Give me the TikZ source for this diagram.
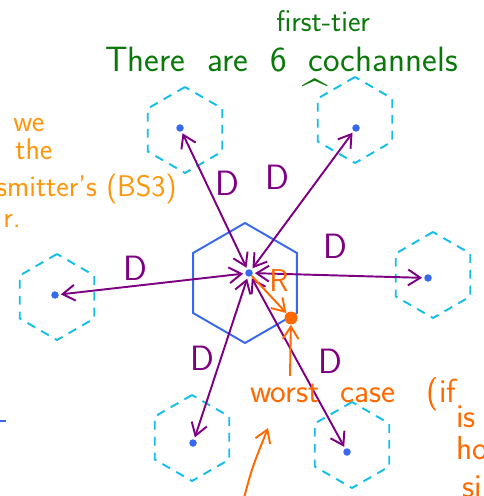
\documentclass[tikz,border=0pt]{standalone}
\usepackage{fontspec}
\usepackage{xcolor}
\usepackage{tikz}
\usetikzlibrary{shapes.geometric, arrows.meta, positioning}

\definecolor{cellblue}{RGB}{55,105,240}
\definecolor{tiercyan}{RGB}{20,190,235}
\definecolor{linkpurple}{RGB}{125,0,130}
\definecolor{noteorange}{RGB}{255,150,10}
\definecolor{caseorange}{RGB}{255,105,0}
\definecolor{tiergreen}{RGB}{10,120,10}

\begin{document}
\begin{tikzpicture}[
    x=0.02cm, y=-0.02cm,
    cell/.style={regular polygon, regular polygon sides=6, shape border rotate=30, inner sep=0pt, minimum size=1.72cm, draw=tiercyan, line width=1.1pt, dash pattern=on 5pt off 4pt},
    home/.style={regular polygon, regular polygon sides=6, shape border rotate=30, inner sep=0pt, minimum size=2.4cm, draw=cellblue, line width=1.1pt},
    bs/.style={circle, fill=cellblue, inner sep=0pt, minimum size=0.15cm},
    link/.style={{Straight Barb[length=7pt, width=9pt]}-{Straight Barb[length=7pt, width=9pt]}, linkpurple, line width=1.1pt, shorten <=1pt, shorten >=1pt},
    oarr/.style={-{Straight Barb[length=7pt, width=9pt]}, caseorange, line width=1.1pt},
    dlbl/.style={font=\sffamily\fontsize{20}{22}\selectfont, text=linkpurple},
    note/.style={font=\sffamily\fontsize{17}{20}\selectfont, text=noteorange, anchor=base west, inner sep=0pt},
    case/.style={font=\sffamily\fontsize{19}{22}\selectfont, text=caseorange, anchor=base west, inner sep=0pt},
    tier/.style={font=\sffamily\fontsize{20}{22}\selectfont, text=tiergreen, anchor=base west, inner sep=0pt},
]
\useasboundingbox (0,0) rectangle (483,496);

% cells: home cell and the first tier of co-channel cells
\node[home] (cell0) at (245,283) {};
\node[cell] (cell1) at (185,130) {};
\node[cell] (cell2) at (355,120) {};
\node[cell] (cell3) at (433,275) {};
\node[cell] (cell4) at (57,297) {};
\node[cell] (cell5) at (192,438) {};
\node[cell] (cell6) at (352,445) {};

% base stations
\node[bs] (bs0) at (249,273) {};
\node[bs] (bs1) at (180,128) {};
\node[bs] (bs2) at (356,128) {};
\node[bs] (bs3) at (428,278) {};
\node[bs] (bs4) at (55,295) {};
\node[bs] (bs5) at (193,443) {};
\node[bs] (bs6) at (347,452) {};

% reuse distance D
\foreach \i in {1,...,6}
    \draw[link] (bs0) -- (bs\i);
\node[dlbl] (d1) at (227,183) {D};
\node[dlbl] (d2) at (277,177) {D};
\node[dlbl] (d3) at (335,246) {D};
\node[dlbl] (d4) at (135,268) {D};
\node[dlbl] (d5) at (202,358) {D};
\node[dlbl] (d6) at (330,361) {D};

% mobile at the cell edge
\node[circle, fill=caseorange, inner sep=0pt, minimum size=0.26cm] (ms) at (291,318) {};
\draw[oarr] (bs0) -- (ms);
\node[font=\sffamily\fontsize{18}{20}\selectfont, text=caseorange] (rlbl) at (279,281) {R};

% worst case note
\coordinate (wcTail) at (290,376);
\draw[oarr] (wcTail) -- (ms);
\node[case] (wc) at (250,402) {worst~~case~~~(if};
\node[case] (wc2) at (456,427) {is};
\node[case] (wc3) at (456,459) {ho};
\node[case] (wc4) at (462,497) {si};
\coordinate (lowTail) at (244,498);
\coordinate (lowTip) at (268,428);
\draw[oarr] (lowTail) .. controls (252,468) .. (lowTip);

% green heading
\node[tier, font=\sffamily\fontsize{17}{20}\selectfont] (tier) at (276,32) {first-tier};
\node[tier] (head) at (105,72) {There~~are~~6~~cochannels};
\node[font=\sffamily\fontsize{26}{28}\selectfont, text=tiergreen] (caret) at (315,96) {\textasciicircum};

% orange side note (cut off at the left)
\node[note] (n1) at (13,132) {we};
\node[note] (n2) at (15,160) {the};
\node[note] (n3) at (-4,197) {smitter's (BS3)};
\node[note] (n4) at (3,228) {r.};

\coordinate (tickA) at (0,421);
\coordinate (tickB) at (6,421);
\draw[cellblue, line width=1.1pt] (tickA) -- (tickB);

\end{tikzpicture}
\end{document}
